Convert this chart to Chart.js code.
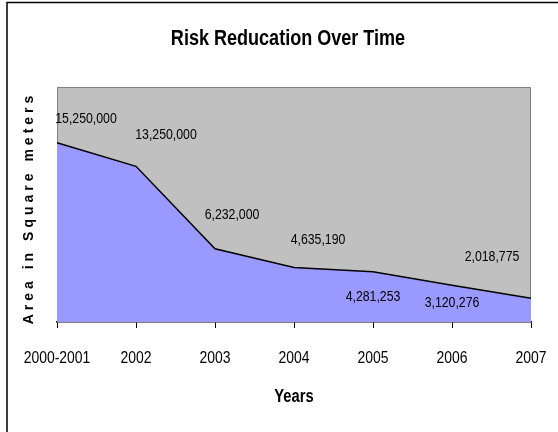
<!DOCTYPE html>
<html>
<head>
<meta charset="utf-8">
<title>Risk Reducation Over Time</title>
<script src="https://cdn.jsdelivr.net/npm/chart.js@4/dist/chart.umd.min.js"></script>
<style>
  html, body { margin: 0; padding: 0; background: #ffffff; }
  #wrap { width: 558px; height: 432px; }
</style>
</head>
<body>
<div id="wrap"><canvas id="chart" width="558" height="432"></canvas></div>
<script>
// Chart data
const years = ['2000-2001', '2002', '2003', '2004', '2005', '2006', '2007'];
const areaSqMeters = [15250000, 13250000, 6232000, 4635190, 4281253, 3120276, 2018775];
const yAxisMax = 20000000;

const chartTitle = 'Risk Reducation Over Time';
const xTitle = 'Years';
const yTitle = 'Area in Square meters';

// Fonts: Arial-metric face, squeezed horizontally to get a narrow look
const FACE = "'Liberation Sans', Arial, sans-serif";
const SQUEEZE = 0.82;

// Where each value label sits relative to its point (dx, dy in px)
const labelOffsets = [[29, -24], [30, -31], [17, -34], [24, -28], [0, 25], [0, 18], [-39, -41]];

const fmt = v => v.toLocaleString('en-US');

function narrowText(ctx, text, x, y, size, bold, baseline) {
  ctx.save();
  ctx.translate(x, y);
  ctx.scale(SQUEEZE, 1);
  ctx.font = (bold ? 'bold ' : '') + size + 'px ' + FACE;
  ctx.fillStyle = '#000000';
  ctx.textAlign = 'center';
  ctx.textBaseline = baseline || 'alphabetic';
  ctx.fillText(text, 0, 0);
  ctx.restore();
}

// Grey plot area with a darker frame, plus the outer chart frame
const plotBackground = {
  id: 'plotBackground',
  beforeDraw(chart) {
    const { ctx, chartArea: a } = chart;
    ctx.save();
    ctx.fillStyle = '#C0C0C0';
    ctx.fillRect(a.left, a.top, a.right - a.left, a.bottom - a.top);
    ctx.strokeStyle = '#808080';
    ctx.lineWidth = 1;
    ctx.beginPath();
    ctx.moveTo(a.left + 0.5, a.bottom);
    ctx.lineTo(a.left + 0.5, a.top + 0.5);
    ctx.lineTo(a.right - 0.5, a.top + 0.5);
    ctx.lineTo(a.right - 0.5, a.bottom);
    ctx.stroke();
    ctx.strokeStyle = '#000000';
    ctx.lineWidth = 1.5;
    ctx.strokeRect(7, 2.5, 600, 500);
    ctx.restore();
  }
};

// Value labels next to each point
const valueLabels = {
  id: 'valueLabels',
  afterDatasetsDraw(chart) {
    const meta = chart.getDatasetMeta(0);
    meta.data.forEach((pt, i) => {
      const [dx, dy] = labelOffsets[i];
      narrowText(chart.ctx, fmt(areaSqMeters[i]), pt.x + dx, pt.y + dy, 15, false, 'middle');
    });
  }
};

// Titles and category labels
const chartText = {
  id: 'chartText',
  afterDraw(chart) {
    const { ctx, chartArea: a } = chart;
    const xs = chart.scales.x;
    const mid = (a.left + a.right) / 2;

    narrowText(ctx, chartTitle, mid - 6, 45, 22, true);

    years.forEach((lab, i) => {
      narrowText(ctx, lab, xs.getPixelForTick(i), a.bottom + 41, 17, false);
    });

    narrowText(ctx, xTitle, mid, a.bottom + 80, 18, true);

    // rotated, letter-spaced value axis title
    ctx.save();
    ctx.translate(29, 210);
    ctx.rotate(-Math.PI / 2);
    ctx.font = 'bold 14px ' + FACE;
    if ('letterSpacing' in ctx) ctx.letterSpacing = '4px';
    ctx.fillStyle = '#000000';
    ctx.textAlign = 'center';
    ctx.textBaseline = 'middle';
    ctx.fillText(yTitle, 2, 0);
    ctx.restore();
  }
};

new Chart(document.getElementById('chart'), {
  type: 'line',
  data: {
    labels: years,
    datasets: [{
      label: 'Area',
      data: areaSqMeters,
      fill: 'origin',
      backgroundColor: '#9999FF',
      borderColor: '#000000',
      borderWidth: 1.5,
      pointRadius: 0,
      pointHoverRadius: 0,
      tension: 0
    }]
  },
  options: {
    responsive: false,
    devicePixelRatio: 1,
    animation: false,
    events: [],
    layout: { padding: { left: 45, right: 27, top: 87, bottom: 0 } },
    plugins: {
      legend: { display: false },
      tooltip: { enabled: false },
      title: { display: false }
    },
    scales: {
      x: {
        offset: false,
        grid: {
          display: true,
          drawOnChartArea: false,
          drawTicks: true,
          tickLength: 6,
          color: '#000000',
          lineWidth: 1
        },
        border: { display: true, color: '#000000', width: 1.5 },
        ticks: { display: false, autoSkip: false, maxRotation: 0 },
        afterFit(s) { s.height = 110; }
      },
      y: {
        min: 0,
        max: yAxisMax,
        grid: { display: false },
        border: { display: false },
        ticks: { display: false },
        afterFit(s) { s.width = 12; }
      }
    }
  },
  plugins: [plotBackground, valueLabels, chartText]
});
</script>
</body>
</html>
